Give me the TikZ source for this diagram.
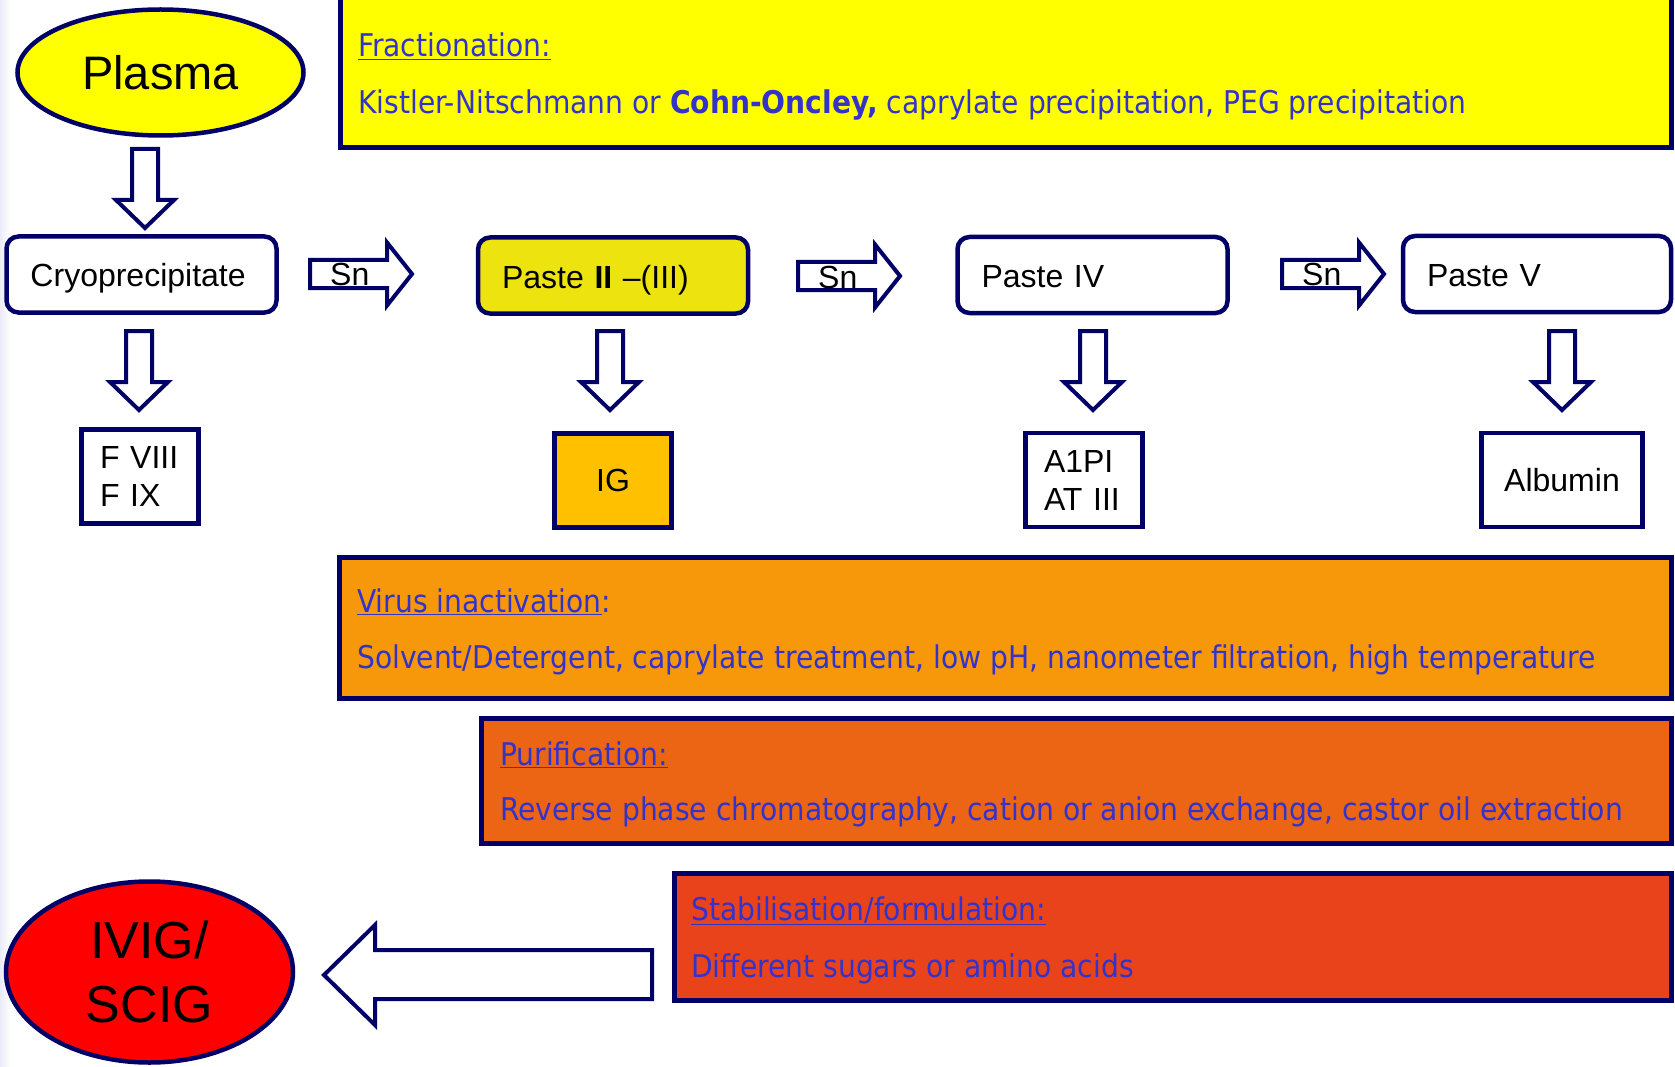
\documentclass[tikz,border=0pt]{standalone}
\usepackage{fontspec}
\setmainfont{Liberation Sans}
\newfontfamily\tahoma{DejaVu Sans Condensed}
\usetikzlibrary{shapes.geometric,positioning}
\definecolor{navy}{HTML}{000066}
\definecolor{inkblue}{HTML}{3333CC}
\definecolor{plasmayel}{HTML}{FFFF00}
\definecolor{pasteyel}{HTML}{EDE30F}
\definecolor{igamber}{HTML}{FFC000}
\definecolor{virusorg}{HTML}{F7980A}
\definecolor{purorg}{HTML}{EB6514}
\definecolor{stabred}{HTML}{E8431A}
\definecolor{lavender}{HTML}{ECEBFA}
\tikzset{blob/.style={ellipse,draw=navy,line width=4.5pt,inner sep=0pt,align=center},paste/.style={rectangle,rounded corners=12pt,draw=navy,line width=4.5pt,fill=white,minimum height=76pt,text width=222pt,inner xsep=24pt,text height=27pt,text depth=2pt,align=left,font=\fontsize{32}{38}\selectfont},product/.style={rectangle,draw=navy,line width=4.5pt,fill=white,minimum width=117pt,minimum height=94pt,align=center,font=\fontsize{32}{38}\selectfont},band/.style={draw=navy,line width=5pt},bandtext/.style={anchor=base west,inner sep=0pt,text=inkblue,font=\tahoma\fontsize{31.3}{38}\selectfont},sntext/.style={anchor=base west,inner sep=0pt,font=\fontsize{32}{38}\selectfont},blockarrow/.style={draw=navy,line width=4pt,fill=white,line join=miter}}

\begin{document}
\begin{tikzpicture}[x=1pt,y=-1pt]
\useasboundingbox (0,0) rectangle (1675,1067);
\fill[white] (0,0) rectangle (1675,1067);
\shade[left color=lavender,right color=white] (0,0) rectangle (10,1067);
% bands with the process steps
\draw[band,fill=plasmayel] (340,-10) rectangle (1671,147.5);
\draw[band,fill=virusorg] (339,557.5) rectangle (1671,698.5);
\draw[band,fill=purorg] (481.5,718.5) rectangle (1671,843.5);
\draw[band,fill=stabred] (674,873.5) rectangle (1671,1000.5);
\node[bandtext] (fractitle) at (358,57) {\underline{Fractionation:}};
\node[bandtext] (fracbody) at (358,114) {Kistler-Nitschmann or \textbf{Cohn-Oncley,} caprylate precipitation, PEG precipitation};
\node[bandtext] (virustitle) at (357,612) {\underline{Virus inactivation}:};
\node[bandtext] (virusbody) at (357,668) {Solvent/Detergent, caprylate treatment, low pH, nanometer filtration, high temperature};
\node[bandtext] (purtitle) at (500,765) {\underline{Purification:}};
\node[bandtext] (purbody) at (500,820) {Reverse phase chromatography, cation or anion exchange, castor oil extraction};
\node[bandtext] (stabtitle) at (691,920) {\underline{Stabilisation/formulation:}};
\node[bandtext] (stabbody) at (691,977) {Different sugars or amino acids};
% start and end
\node[blob,fill=plasmayel,minimum width=286pt,minimum height=126pt,font=\fontsize{47}{56}\selectfont] (plasma) at (160.5,72.5) {Plasma};
\node[blob,fill=red,minimum width=287pt,minimum height=181pt,font=\fontsize{52}{64}\selectfont] (ivig) at (149.5,972) {IVIG/\\SCIG};
% pastes
\node[paste] (cryo) at (141.5,274.5) {Cryoprecipitate};
\node[paste,fill=pasteyel] (pasteii) at (613,275.5) {Paste \textbf{II} –(III)};
\node[paste] (pasteiv) at (1092.5,275) {Paste IV};
\node[paste,text width=220pt] (pastev) at (1537,274) {Paste V};
% products
\node[product,text width=80pt,inner xsep=18.5pt,minimum width=0pt,align=left] (fviii) at (140,476.5) {F VIII\\F IX};
\node[product,fill=igamber] (ig) at (613,480.5) {IG};
\node[product,text width=80pt,inner xsep=18.5pt,minimum width=0pt,align=left] (aonepi) at (1084,480) {A1PI\\AT III};
\node[product,minimum width=161pt] (albumin) at (1562,480) {Albumin};
% block arrows
\foreach \ax/\ay in {145/147,139/329,610/329,1093/329,1562/329}{
\draw[blockarrow] (\ax-13,\ay+2) -- (\ax+13,\ay+2) -- (\ax+13,\ay+53) -- (\ax+29,\ay+53) -- (\ax,\ay+81) -- (\ax-29,\ay+53) -- (\ax-13,\ay+53) -- cycle;
}
\foreach \sx/\sy/\k in {308/274/1,796/276/2,1280/274/3}{
\draw[blockarrow] (\sx+2,\sy-14) -- (\sx+79,\sy-14) -- (\sx+79,\sy-31.5) -- (\sx+104,\sy) -- (\sx+79,\sy+31.5) -- (\sx+79,\sy+14) -- (\sx+2,\sy+14) -- cycle;
\node[sntext] (sn\k) at (\sx+22,\sy+12) {Sn};
}
\draw[blockarrow] (652,950) -- (375,950) -- (375,925) -- (324,975) -- (375,1025) -- (375,999) -- (652,999) -- cycle;
\end{tikzpicture}
\end{document}
